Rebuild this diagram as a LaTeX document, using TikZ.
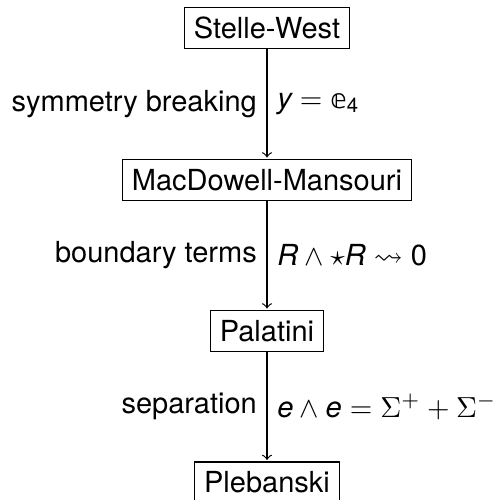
\documentclass[tikz,border=0pt]{standalone}
\usepackage{amsmath,amssymb}
\usepackage{fontspec}
\setmainfont{TeX Gyre Heros}
\newfontfamily\dvsans{DejaVu Sans}
\usetikzlibrary{arrows.meta}
\newcommand\mv[1]{\text{\itshape #1}}
\newcommand\mn[1]{\text{#1}}
\newcommand\dse{\text{\dvsans\scalebox{0.92}{𝕖}}}
\tikzset{
  stage/.style={draw, line width=0.4pt, inner sep=0.3333em, font=\fontsize{10}{12}\selectfont},
  lab/.style={font=\fontsize{10}{12}\selectfont, inner sep=0.3333em},
  flow/.style={-to, line width=0.4pt, shorten >=0.5pt}
}
\begin{document}
\begin{tikzpicture}[x=0.34483pt, y=-0.34483pt]
\useasboundingbox (0,0) rectangle (498,500);
\node[stage] (sw) at (267,28) {Stelle-West};
\node[stage] (mm) at (267,180) {MacDowell-Mansouri};
\node[stage] (pa) at (267,331) {Palatini};
\node[stage] (pl) at (267,482.5) {Plebanski};
\draw[flow] (sw) -- (mm)
  node[lab, midway, left] (l1) {symmetry breaking}
  node[lab, midway, right] (r1) {$\mv{y} = \dse_{\mn{4}}$};
\draw[flow] (mm) -- (pa)
  node[lab, midway, left] (l2) {boundary terms}
  node[lab, midway, right] (r2) {$\mv{R}\wedge\star\mv{R}\leadsto \mn{0}$};
\draw[flow] (pa) -- (pl)
  node[lab, midway, left] (l3) {separation}
  node[lab, midway, right] (r3) {$\mv{e}\wedge\mv{e} = \Sigma^{+}+\Sigma^{-}$};
\end{tikzpicture}
\end{document}
